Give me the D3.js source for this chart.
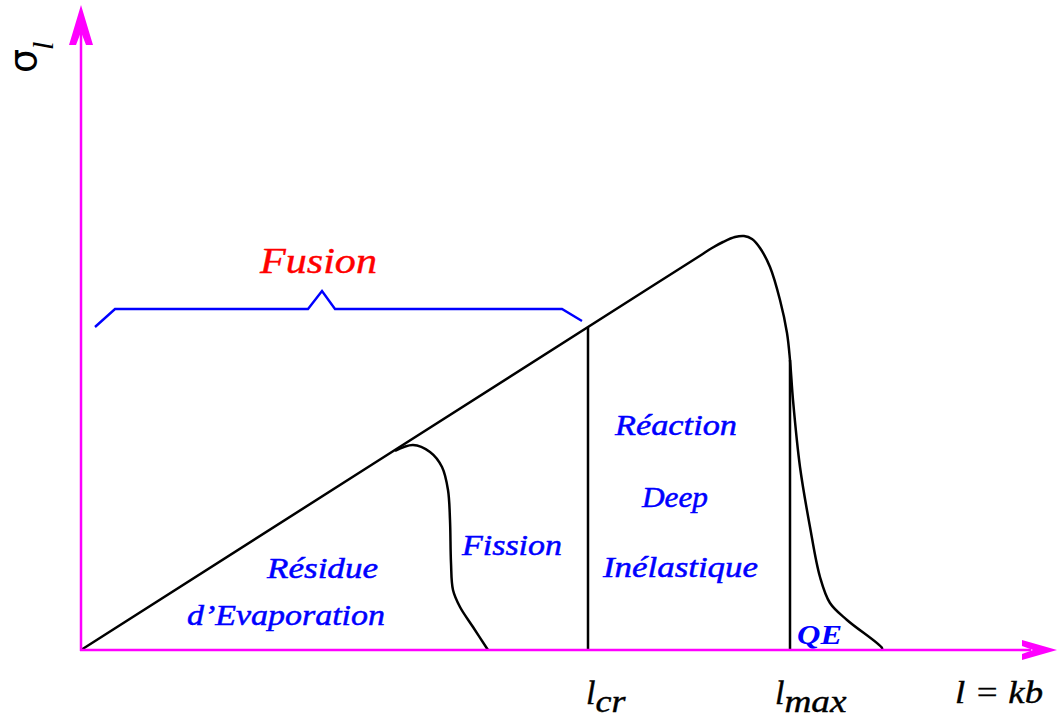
<!DOCTYPE html>
<html><head><meta charset="utf-8">
<script src="https://cdn.jsdelivr.net/npm/d3@7"></script>
<style>html,body{margin:0;padding:0;background:#fff;overflow:hidden}</style>
</head><body>
<script>
// Data in chart units (l along x, sigma_l along y)
const mainCurve = [[0,0],[569,362.5],[619,394.3],[631,402],[642,408],[654,413],[663,414],[671,411],[679,402],[689,383],[699,350],[706,317],[709,290],[712,250],[719,183],[729,123],[739,73],[749,47],[766,30],[801,2],[801,0]];
const fissionCurve = [[314,199],[332,205],[349,198],[361,183],[367,160],[369,130],[370,87],[372,60],[379,43],[392,23],[407,0]];
const lcr = 507, lcrTop = 323;
const lmax = 709, lmaxTop = 290;
const brace = [[14,323],[34,341],[227,341],[241,359],[254,341],[481,341],[501,329]];
const regionLabels = [
  {text:"Résidue", x:186, y:72, w:111},
  {text:"d’Evaporation", x:106, y:25, w:198},
  {text:"Fission", x:381, y:95, w:100},
  {text:"Réaction", x:534, y:215, w:122},
  {text:"Deep", x:561, y:143, w:66},
  {text:"Inélastique", x:522, y:73, w:155}
];

const W = 1057, H = 721;
const x = d3.scaleLinear().domain([0, 976]).range([81, 1057]);
const y = d3.scaleLinear().domain([0, 645]).range([650, 5]);

const svg = d3.select("body").append("svg").attr("width", W).attr("height", H);
const serif = "'Liberation Serif', 'DejaVu Serif', serif";
const mag = "#ff00ff";

// Curves
const line = d3.line().x(d => x(d[0])).y(d => y(d[1])).curve(d3.curveCatmullRom.alpha(0.5));
svg.append("path").datum(mainCurve).attr("d", line).attr("fill","none").attr("stroke","#000").attr("stroke-width",2.5);
svg.append("path").datum(fissionCurve).attr("d", line).attr("fill","none").attr("stroke","#000").attr("stroke-width",2.5);
svg.append("line").attr("x1",x(lcr)).attr("x2",x(lcr)).attr("y1",y(0)).attr("y2",y(lcrTop)).attr("stroke","#000").attr("stroke-width",2.5);
svg.append("line").attr("x1",x(lmax)).attr("x2",x(lmax)).attr("y1",y(0)).attr("y2",y(lmaxTop)).attr("stroke","#000").attr("stroke-width",2.5);

// Brace
svg.append("path").datum(brace).attr("d", d3.line().x(d=>x(d[0])).y(d=>y(d[1])))
  .attr("fill","none").attr("stroke","#0000ff").attr("stroke-width",2.4);

// Axes
svg.append("line").attr("x1",x(0)).attr("x2",x(0)).attr("y1",y(0)+1).attr("y2",y(620)).attr("stroke",mag).attr("stroke-width",2.5);
svg.append("line").attr("x1",x(0)-1).attr("x2",x(950)).attr("y1",y(0)).attr("y2",y(0)).attr("stroke",mag).attr("stroke-width",2.5);
// arrowheads
const x0 = x(0), yTop = y(645);
svg.append("path").attr("d", `M${x0},${yTop} L${x0+12},${yTop+40} L${x0+5},${yTop+40} L${x0},${yTop+27} L${x0-5},${yTop+40} L${x0-12},${yTop+40} Z`).attr("fill",mag);
const xr = x(976), y0 = y(0);
svg.append("path").attr("d", `M${xr},${y0} L${xr-35},${y0-10} L${xr-35},${y0-4} L${xr-24},${y0} L${xr-35},${y0+4} L${xr-35},${y0+10} Z`).attr("fill",mag);

// Region labels
svg.selectAll("text.reg").data(regionLabels).enter().append("text")
  .attr("class","reg").attr("x", d=>x(d.x)).attr("y", d=>y(d.y))
  .attr("textLength", d=>d.w).attr("lengthAdjust","spacingAndGlyphs")
  .attr("font-family", serif).attr("font-style","italic").attr("font-size",30)
  .attr("fill","#0000ff").attr("stroke","#0000ff").attr("stroke-width",0.5).text(d=>d.text);

svg.append("text").attr("x",x(716)).attr("y",y(6)).attr("textLength",45).attr("lengthAdjust","spacingAndGlyphs")
  .attr("font-family",serif).attr("font-style","italic").attr("font-weight","bold").attr("font-size",27)
  .attr("fill","#0000ff").text("QE");

svg.append("text").attr("x",x(179)).attr("y",y(377)).attr("textLength",117).attr("lengthAdjust","spacingAndGlyphs")
  .attr("font-family",serif).attr("font-style","italic").attr("font-size",36)
  .attr("fill","#ff0000").attr("stroke","#ff0000").attr("stroke-width",0.4).text("Fusion");

// Axis labels
const t1 = svg.append("text").attr("x",x(lcr)-2).attr("y",704).attr("font-family",serif).attr("font-style","italic").attr("font-size",34).attr("fill","#000").attr("stroke","#000").attr("stroke-width",0.4);
t1.append("tspan").text("l");
t1.append("tspan").attr("dy",8).attr("font-size",31).attr("textLength",30).attr("lengthAdjust","spacingAndGlyphs").text("cr");
const t2 = svg.append("text").attr("x",x(lmax)-15).attr("y",704).attr("font-family",serif).attr("font-style","italic").attr("font-size",34).attr("fill","#000").attr("stroke","#000").attr("stroke-width",0.4);
t2.append("tspan").text("l");
t2.append("tspan").attr("dy",8).attr("font-size",31).attr("textLength",62).attr("lengthAdjust","spacingAndGlyphs").text("max");
svg.append("text").attr("x",955).attr("y",703).attr("textLength",88).attr("lengthAdjust","spacingAndGlyphs")
  .attr("font-family",serif).attr("font-style","italic").attr("font-size",32).attr("fill","#000").attr("stroke","#000").attr("stroke-width",0.4).text("l = kb");

const sig = svg.append("text").attr("transform","translate(36,73) rotate(-90)").attr("fill","#000");
sig.append("tspan").attr("font-family","'DejaVu Sans', sans-serif").attr("font-size",38).text("σ");
sig.append("tspan").attr("dy",17).attr("dx",-1).attr("font-family",serif).attr("font-style","italic").attr("font-size",30).text("l");
</script>
</body></html>
